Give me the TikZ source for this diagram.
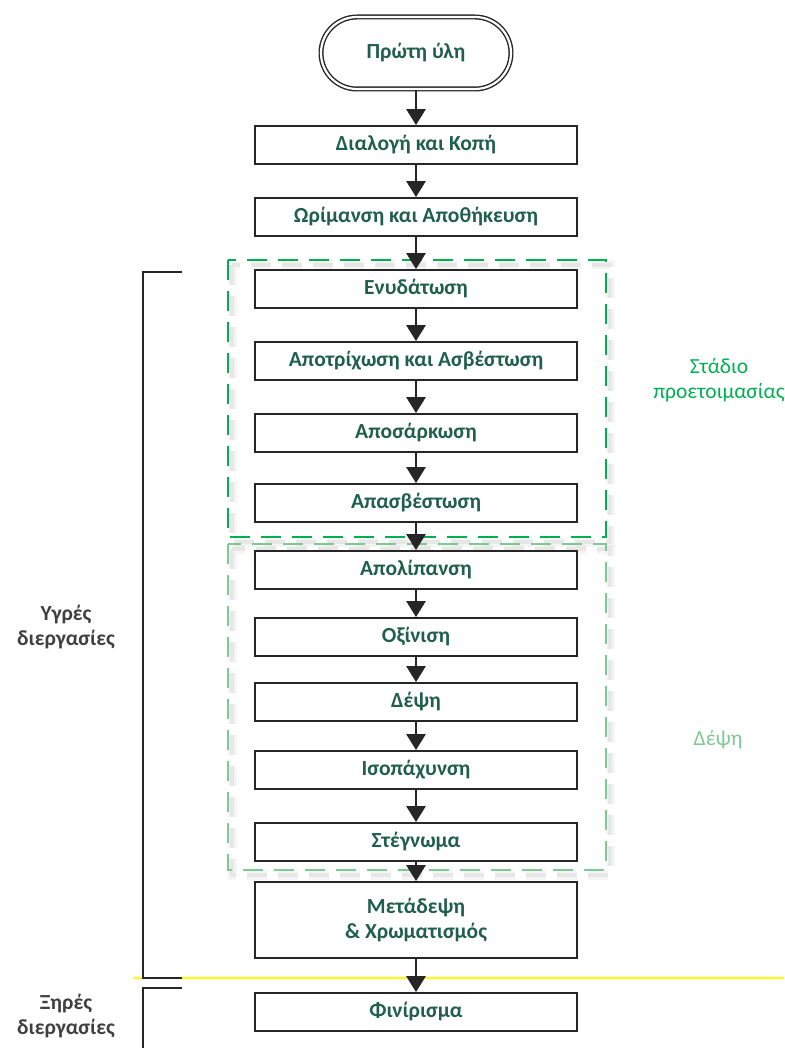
\documentclass[tikz,border=0pt]{standalone}
\usepackage{fontspec}
\setmainfont{Carlito}
\usetikzlibrary{arrows.meta}
\definecolor{boxtext}{HTML}{1F5F4B}
\definecolor{ink}{HTML}{262626}
\definecolor{prepgreen}{HTML}{00B050}
\definecolor{tangreen}{HTML}{7DC993}
\definecolor{sidetext}{HTML}{404040}
\definecolor{divline}{HTML}{FFFF00}
\newcommand{\labelfont}{\fontsize{21.5}{25}\selectfont}
\tikzset{
  stepbox/.style={draw=ink, line width=1.8pt, fill=white, minimum width=322pt,
    minimum height=38pt, inner sep=0pt, text=boxtext, font=\labelfont\bfseries,
    align=center},
  flow/.style={draw=ink, line width=2.8pt, -{Triangle[width=19pt,length=16pt]}},
  stagebox/.style={line width=2.8pt, dash pattern=on 20pt off 11pt},
  stageshadowA/.style={line width=9pt, dash pattern=on 20pt off 11pt, draw=black, opacity=0.04},
  stageshadowB/.style={line width=4pt, dash pattern=on 20pt off 11pt, draw=black, opacity=0.06},
  bracket/.style={draw=ink, line width=2pt},
  sidelabel/.style={text=sidetext, font=\labelfont\bfseries, align=center},
  caption/.style={font=\labelfont, align=center},
}
\begin{document}
\begin{tikzpicture}[x=1pt,y=-1pt]
\useasboundingbox (0,0) rectangle (784,1048);

% stage frames with soft shadows
\foreach \t/\b in {260/537, 544/870}{
  \draw[stageshadowA] (232,\t+5) rectangle (610,\b+5);
  \draw[stageshadowB] (232,\t+5) rectangle (610,\b+5);
}
\draw[stagebox, draw=prepgreen] (228,260) rectangle (606,537);
\draw[stagebox, draw=tangreen] (228,544) rectangle (606,870);

% stage captions
\node[caption, text=prepgreen] (prepLbl) at (719,380) {Στάδιο\\προετοιμασίας};
\node[caption, text=tangreen] (tanLbl) at (718,740) {Δέψη};

% start terminal
\node[draw=ink, double=white, double distance=2.2pt, line width=1.4pt, rounded corners=36pt,
  minimum width=190pt, minimum height=72pt, text=boxtext,
  font=\labelfont\bfseries] (raw) at (416,53) {Πρώτη ύλη};

% process steps
\node[stepbox] (sort)   at (416,145) {Διαλογή και Κοπή};
\node[stepbox] (cure)   at (416,217) {Ωρίμανση και Αποθήκευση};
\node[stepbox] (soak)   at (416,289) {Ενυδάτωση};
\node[stepbox] (lime)   at (416,361) {Αποτρίχωση και Ασβέστωση};
\node[stepbox] (flesh)  at (416,433) {Αποσάρκωση};
\node[stepbox] (delime) at (416,503) {Απασβέστωση};
\node[stepbox] (degr)   at (416,570) {Απολίπανση};
\node[stepbox] (pickle) at (416,637) {Οξίνιση};
\node[stepbox] (tan)    at (416,702) {Δέψη};
\node[stepbox] (shave)  at (416,770) {Ισοπάχυνση};
\node[stepbox] (dry)    at (416,842) {Στέγνωμα};
\node[stepbox, minimum height=76pt] (retan) at (416,920) {Μετάδεψη\\\& Χρωματισμός};
\node[stepbox] (finish) at (416,1012) {Φινίρισμα};

% wet / dry boundary
\coordinate (divL) at (133,978);
\coordinate (divR) at (784,978);
\draw[draw=divline, line width=2pt] (divL) -- (divR);

% flow arrows
\draw[flow] (raw) -- (sort);
\draw[flow] (sort) -- (cure);
\draw[flow] (cure) -- (soak);
\draw[flow] (soak) -- (lime);
\draw[flow] (lime) -- (flesh);
\draw[flow] (flesh) -- (delime);
\draw[flow] (delime) -- (degr);
\draw[flow] (degr) -- (pickle);
\draw[flow] (pickle) -- (tan);
\draw[flow] (tan) -- (shave);
\draw[flow] (shave) -- (dry);
\draw[flow] (dry) -- (retan);
\draw[flow] (retan) -- (finish);

% side brackets
\coordinate (wetTop) at (182,272);
\coordinate (wetBot) at (182,978);
\draw[bracket] (wetTop) -- (143,272) -- (143,978) -- (wetBot);
\coordinate (dryTop) at (182,988);
\coordinate (dryEnd) at (143,1048);
\draw[bracket] (dryTop) -- (143,988) -- (dryEnd);

\node[sidelabel] (wetLbl) at (66,627) {Υγρές\\διεργασίες};
\node[sidelabel] (dryLbl) at (66,1016) {Ξηρές\\διεργασίες};
\end{tikzpicture}
\end{document}
